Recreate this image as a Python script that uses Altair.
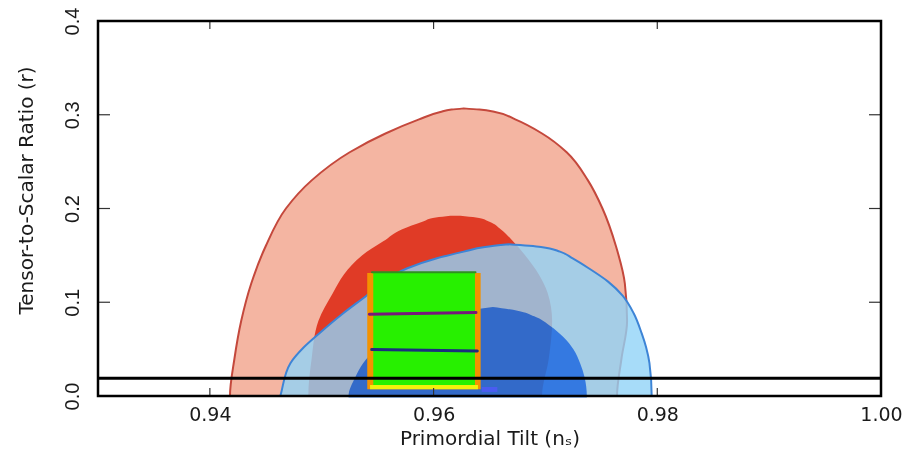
import altair as alt
import pandas as pd

# ---------------- data ----------------
x_domain = [0.93, 1.00]
y_domain = [0.0, 0.4]
x_label_values = [0.94, 0.96, 0.98, 1.00]
y_label_values = [0.0, 0.1, 0.2, 0.3, 0.4]
x_tick_values = [0.94, 0.96, 0.98]
y_tick_values = [0.1, 0.2, 0.3]

# red 95% contour (r level, left n_s, right n_s)
red_outer_r = [-0.004, 0.0, 0.04, 0.08, 0.12, 0.16, 0.20, 0.23, 0.26, 0.28, 0.295, 0.303, 0.3055, 0.3068]
red_outer_left = [0.9418, 0.9418, 0.9422, 0.9428, 0.9437, 0.9450, 0.9468, 0.9491, 0.9525, 0.9557, 0.9587, 0.9606, 0.9616, 0.9627]
red_outer_right = [0.9764, 0.9764, 0.9768, 0.9773, 0.9771, 0.9763, 0.9751, 0.9738, 0.9719, 0.9697, 0.9673, 0.9655, 0.9641, 0.9627]

# red 68% contour
red_inner_r = [-0.004, 0.0, 0.04, 0.08, 0.11, 0.13, 0.15, 0.165, 0.178, 0.186, 0.1905, 0.1924]
red_inner_left = [0.9488, 0.9488, 0.9491, 0.9497, 0.9510, 0.9520, 0.9536, 0.9555, 0.9572, 0.9590, 0.9602, 0.9615]
red_inner_right = [0.9697, 0.9697, 0.9703, 0.9706, 0.9702, 0.9694, 0.9682, 0.9671, 0.9660, 0.9650, 0.9638, 0.9624]

# blue 95% contour
blue_outer_r = [-0.004, 0.0, 0.035, 0.052, 0.067, 0.088, 0.107, 0.122, 0.136, 0.147, 0.154, 0.159, 0.1618]
blue_outer_left = [0.9462, 0.9463, 0.9472, 0.9484, 0.9498, 0.9519, 0.9540, 0.9556, 0.9576, 0.9603, 0.9627, 0.9646, 0.9667]
blue_outer_right = [0.9795, 0.9795, 0.9793, 0.9790, 0.9786, 0.9779, 0.9769, 0.9756, 0.9739, 0.9724, 0.9713, 0.9696, 0.9667]

# blue 68% contour
blue_inner_r = [-0.0015, 0.0, 0.02, 0.035, 0.05, 0.063, 0.075, 0.085, 0.091, 0.095]
blue_inner_left = [0.9524, 0.9524, 0.9530, 0.9537, 0.9548, 0.9560, 0.9580, 0.9605, 0.9628, 0.9653]
blue_inner_right = [0.9737, 0.9737, 0.9735, 0.9731, 0.9725, 0.9716, 0.9704, 0.9690, 0.9675, 0.9653]

# hand-drawn box
box_orange = {"x": [0.95407], "x2": [0.96421], "y": [0.0071], "y2": [0.1312]}
box_green = {"x": [0.95461], "x2": [0.96370], "y": [0.0117], "y2": [0.1318]}
box_yellow = {"x": [0.95432], "x2": [0.96397], "y": [0.0071], "y2": [0.0117]}
box_blob = {"x": [0.9643], "x2": [0.9657], "y": [0.0043], "y2": [0.0096]}
box_top_ns = [0.95450, 0.96375]
box_top_r = [0.1320, 0.1320]
purple_ns = [0.95426, 0.96379]
purple_r = [0.0872, 0.0890]
navy_ns = [0.95447, 0.96391]
navy_r = [0.0497, 0.0479]

black_line_r = [0.019]

# ---------------- chart ----------------
W, H = 783, 375
xs = alt.Scale(domain=x_domain, nice=False, zero=False)
ys = alt.Scale(domain=y_domain, nice=False, zero=False)

xaxis = alt.Axis(
    values=x_label_values, format=".2f", title="Primordial Tilt (nₛ)",
    domain=False, ticks=False, tickSize=0, grid=False,
    labelFont="DejaVu Sans", labelFontSize=19, labelColor="#1a1a1a",
    labelBaseline="alphabetic", labelPadding=24, labelFlush=False, labelOverlap=False,
    titleFont="DejaVu Sans", titleFontSize=20, titleFontWeight="normal", titleColor="#1a1a1a",
    titleBaseline="alphabetic", titleY=48, titleX=W / 2,
)
yaxis = alt.Axis(
    values=y_label_values, format=".1f", title="Tensor-to-Scalar Ratio (r)",
    domain=False, ticks=False, tickSize=0, grid=False,
    labelFont="Liberation Sans", labelFontSize=20, labelColor="#1a1a1a",
    labelAngle=270, labelAlign="center", labelBaseline="alphabetic", labelPadding=20,
    labelFlush=False, labelOverlap=False,
    titleFont="DejaVu Sans", titleFontSize=20, titleFontWeight="normal", titleColor="#1a1a1a",
    titleAngle=270, titleAlign="center", titleBaseline="alphabetic", titleX=-66, titleY=169,
)


def X(f):
    return alt.X(f, type="quantitative", scale=xs, axis=xaxis)


def Y(f):
    return alt.Y(f, type="quantitative", scale=ys, axis=yaxis)


def contour(r, left, right, **kw):
    df = pd.DataFrame({"r": r, "left": left, "right": right})
    return alt.Chart(df).mark_area(orient="horizontal", interpolate="monotone", **kw).encode(
        y=Y("r"), x=X("left"), x2=alt.X2("right")
    )


red_outer = contour(red_outer_r, red_outer_left, red_outer_right,
                    fill="#f4b5a2", stroke="#c4483c", strokeWidth=2, clip=True)
red_inner = contour(red_inner_r, red_inner_left, red_inner_right, fill="#e03b26", clip=True)
blue_outer = contour(blue_outer_r, blue_outer_left, blue_outer_right,
                     fill="#91d3f7", fillOpacity=0.8, stroke="#3d84d6", strokeWidth=2, clip=True)
# no clip here: a clip-path would isolate the group and stop the multiply blend
blue_inner = contour(blue_inner_r, blue_inner_left, blue_inner_right,
                     fill="#5096fa", blend="multiply")


def rect(d, color):
    return alt.Chart(pd.DataFrame(d)).mark_rect(color=color).encode(
        x=X("x"), x2=alt.X2("x2"), y=Y("y"), y2=alt.Y2("y2")
    )


def seg(ns, r, color, width):
    return alt.Chart(pd.DataFrame({"ns": ns, "r": r})).mark_line(
        color=color, strokeWidth=width, strokeCap="round").encode(x=X("ns"), y=Y("r"))


orange = rect(box_orange, "#f39200")
green = rect(box_green, "#27f000")
yellow = rect(box_yellow, "#f2f20a")
blob = rect(box_blob, "#4a5cf0")
top_line = seg(box_top_ns, box_top_r, "#2f8f20", 2)
purple = seg(purple_ns, purple_r, "#76187c", 3)
navy = seg(navy_ns, navy_r, "#1b2e7c", 3)

black_line = alt.Chart(pd.DataFrame({"r": black_line_r})).mark_rule(
    color="black", strokeWidth=3).encode(y=Y("r"))

xt = pd.DataFrame({"t": x_tick_values})
yt = pd.DataFrame({"t": y_tick_values})
tick_style = dict(color="#333333", strokeWidth=1.2)
ticks_bottom = alt.Chart(xt).mark_rule(**tick_style).encode(x=X("t"), y=alt.value(H), y2=alt.value(H - 8))
ticks_top = alt.Chart(xt).mark_rule(**tick_style).encode(x=X("t"), y=alt.value(0), y2=alt.value(8))
ticks_left = alt.Chart(yt).mark_rule(**tick_style).encode(y=Y("t"), x=alt.value(0), x2=alt.value(12))
ticks_right = alt.Chart(yt).mark_rule(**tick_style).encode(y=Y("t"), x=alt.value(W), x2=alt.value(W - 12))

frame = alt.Chart(pd.DataFrame({"a": [0]})).mark_rect(
    fillOpacity=0, stroke="black", strokeWidth=2.5).encode(
    x=alt.value(0), x2=alt.value(W), y=alt.value(0), y2=alt.value(H))

chart = alt.layer(
    red_outer, red_inner, blue_outer, blue_inner,
    orange, green, yellow, blob, top_line, purple, navy,
    black_line, ticks_bottom, ticks_top, ticks_left, ticks_right, frame,
).properties(
    width=W, height=H,
    padding={"left": 90, "top": 13, "right": 21, "bottom": 56},
    autosize=alt.AutoSizeParams(type="none"),
    background="white",
).configure_view(stroke=None)

chart.save("out.html", embed_options={"renderer": "svg", "actions": False})
